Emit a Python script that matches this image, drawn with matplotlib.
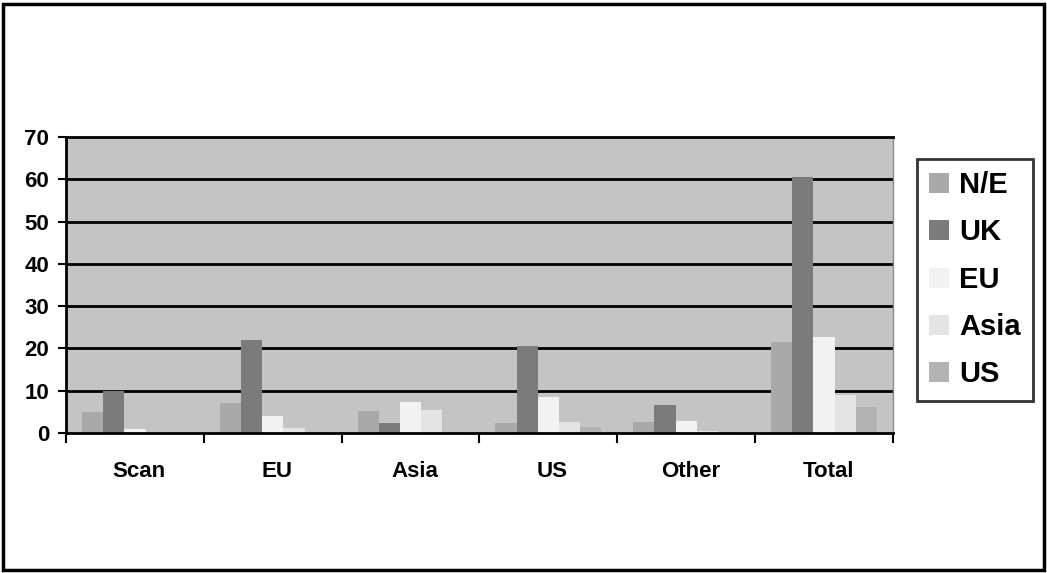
import matplotlib.pyplot as plt
import numpy as np
from matplotlib.patches import Rectangle
from matplotlib.transforms import ScaledTranslation

categories = ["Scan", "EU", "Asia", "US", "Other", "Total"]
series_names = ["N/E", "UK", "EU", "Asia", "US"]
ne_values = [5, 7.2, 5.3, 2.3, 2.6, 21.6]
uk_values = [10, 22, 2.3, 20.5, 6.6, 60.5]
eu_values = [1, 4.1, 7.4, 8.5, 2.8, 22.8]
asia_values = [0.2, 1.2, 5.4, 2.7, 0.5, 9]
us_values = [0, 0.2, 0.2, 1.5, 0.2, 6.1]
yticks = [0, 10, 20, 30, 40, 50, 60, 70]

series = [ne_values, uk_values, eu_values, asia_values, us_values]
colors = ["#a9a9a9", "#7b7b7b", "#f2f2f2", "#e4e4e4", "#b3b3b3"]
font = "Liberation Sans"

fig = plt.figure(figsize=(10.47, 5.73), dpi=100)
fig.patch.set_facecolor("white")
ax = fig.add_axes([66 / 1047, 1 - 433 / 573, (893 - 66) / 1047, (433 - 137) / 573])
ax.set_facecolor("#c4c4c4")

n = len(series)
bar_w = 1 / (n + 1.5)
x = np.arange(len(categories))
for i, (vals, col, name) in enumerate(zip(series, colors, series_names)):
    offs = (i - (n - 1) / 2) * bar_w
    ax.bar(x + offs, vals, width=bar_w, color=col, label=name, zorder=3,
           edgecolor="none")

ax.set_xlim(-0.5, len(categories) - 0.5)
ax.set_ylim(0, 70)
ax.set_yticks(yticks)
ax.set_yticklabels([str(t) for t in yticks], fontsize=16, fontweight="bold",
                   family=font)
for t in yticks[1:-1]:
    ax.axhline(t, color="black", lw=2, zorder=2)

ax.set_xticks(np.arange(len(categories) + 1) - 0.5, minor=False)
ax.set_xticklabels([])
ax.tick_params(axis="x", direction="out", length=7, width=1.5, color="black")
ax.tick_params(axis="y", direction="out", length=6, width=1.5, color="black", pad=6)
ax.set_xticks(x, minor=True)
ax.set_xticklabels(categories, minor=True, fontsize=16, fontweight="bold",
                   family=font)
ax.tick_params(axis="x", which="minor", length=0, pad=20)
shift = ScaledTranslation(4 / 100, 0, fig.dpi_scale_trans)
for lbl in ax.get_xticklabels(minor=True):
    lbl.set_transform(lbl.get_transform() + shift)

ax.spines["right"].set_color("#8a8a8a")
ax.spines["right"].set_linewidth(1)
for side in ["left", "bottom", "top"]:
    ax.spines[side].set_linewidth(2)
    ax.spines[side].set_zorder(4)

leg = fig.legend(loc="upper left", bbox_to_anchor=(917 / 1047, 1 - 159 / 573),
                 frameon=True, fancybox=False, edgecolor="black",
                 prop={"family": font, "weight": "bold", "size": 21},
                 handlelength=0.68, handleheight=0.68, handletextpad=0.35,
                 labelspacing=0.66, borderpad=0.42, borderaxespad=0)
leg.get_frame().set_linewidth(2)

fig.patches.append(Rectangle((3 / 1047, 3 / 573), 1041 / 1047, 566 / 573,
                             transform=fig.transFigure, fill=False,
                             edgecolor="black", lw=2.5))

fig.savefig("out.png", dpi=100)
